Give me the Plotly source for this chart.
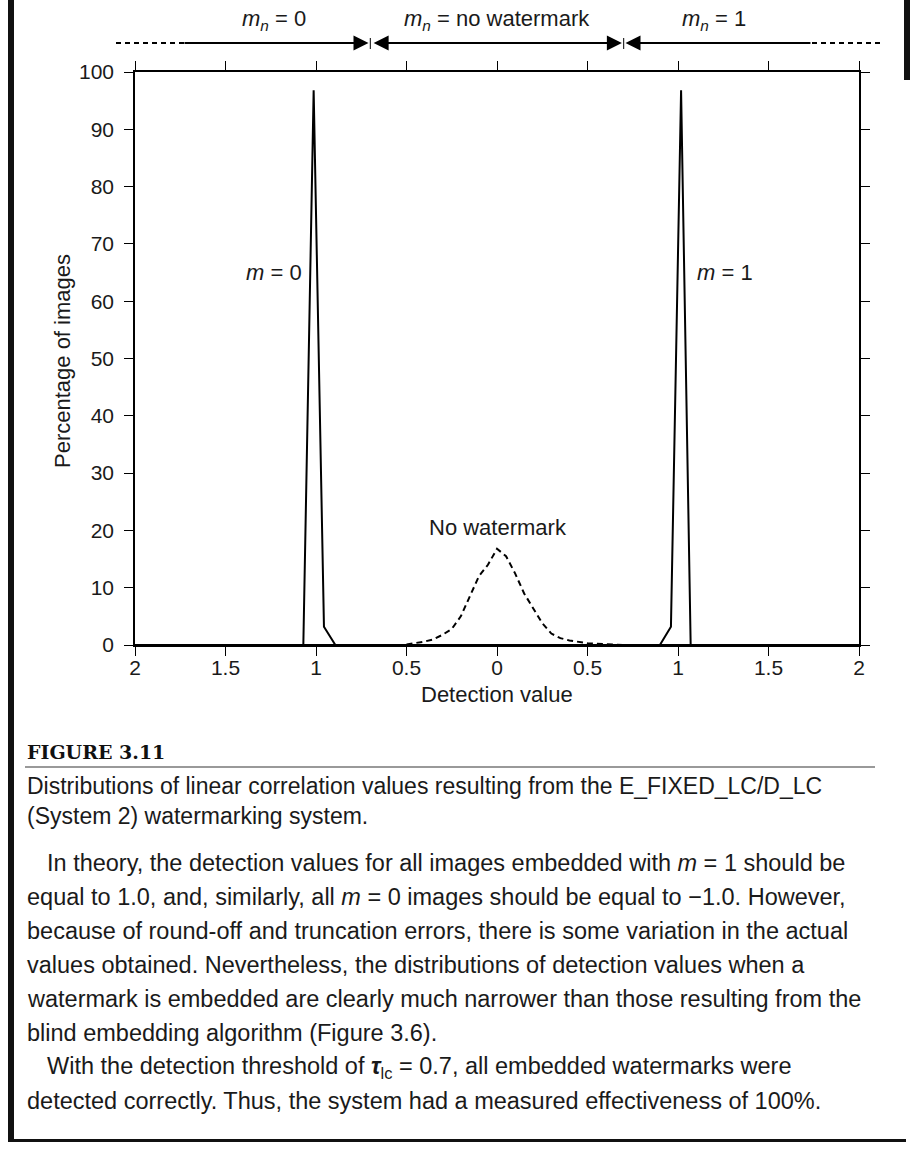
import plotly.graph_objects as go

# ---------------- data ----------------
x_tick_vals = [-2, -1.5, -1, -0.5, 0, 0.5, 1, 1.5, 2]
x_tick_text = ["2", "1.5", "1", "0.5", "0", "0.5", "1", "1.5", "2"]
y_tick_vals = [0, 10, 20, 30, 40, 50, 60, 70, 80, 90, 100]

m0_x = [-2.0, -1.07, -1.013, -0.956, -0.893, 2.0]
m0_y = [0, 0, 96.8, 3.2, 0, 0]

m1_x = [-2.0, 0.90, 0.961, 1.017, 1.07, 2.0]
m1_y = [0, 0, 3.2, 96.8, 0, 0]

nw_x = [-0.5, -0.45, -0.4, -0.35, -0.3, -0.25, -0.2, -0.15, -0.1, -0.05, 0.0,
        0.05, 0.1, 0.15, 0.2, 0.25, 0.3, 0.35, 0.4, 0.45, 0.5, 0.55, 0.6, 0.65, 0.7]
nw_y = [0.1, 0.3, 0.6, 1.0, 1.8, 2.8, 5.0, 8.5, 12.0, 14.0, 16.8,
        15.5, 12.5, 9.0, 6.5, 3.8, 2.0, 1.2, 0.8, 0.5, 0.3, 0.2, 0.1, 0.05, 0.0]

thresholds = [-0.7, 0.7]
region_labels = ["<i>m<sub>n</sub></i> = 0", "<i>m<sub>n</sub></i> = no watermark", "<i>m<sub>n</sub></i> = 1"]
region_label_x = [-1.23, 0.0, 1.2]

# ---------------- layout geometry ----------------
W, H = 910, 1149
L, R, T, B = 135, 51, 72, 504
PW, PH = W - L - R, H - T - B

def px(xp):
    return (xp - L) / PW

def py(yp):
    return (H - B - yp) / PH

FONT = "Liberation Sans, Arial, Helvetica, sans-serif"
TXT = "#1a1a1a"

fig = go.Figure()
fig.add_trace(go.Scatter(x=m0_x, y=m0_y, mode="lines", line=dict(color="black", width=2), showlegend=False))
fig.add_trace(go.Scatter(x=m1_x, y=m1_y, mode="lines", line=dict(color="black", width=2), showlegend=False))
fig.add_trace(go.Scatter(x=nw_x, y=nw_y, mode="lines", line=dict(color="black", width=2, dash="6px,4px"),
                         showlegend=False))

axis_common = dict(showline=True, linecolor="black", linewidth=1.5, ticks="outside", ticklen=9,
                   tickwidth=1.2, tickcolor="black", mirror="ticks", showgrid=False, zeroline=False,
                   tickfont=dict(family=FONT, size=21, color=TXT))

fig.update_layout(
    width=W, height=H,
    margin=dict(l=L, r=R, t=T, b=B, autoexpand=False),
    paper_bgcolor="white", plot_bgcolor="white",
    xaxis=dict(range=[-2, 2], tickvals=x_tick_vals, ticktext=x_tick_text, ticklabelstandoff=-6, **axis_common),
    yaxis=dict(range=[0, 100], tickvals=y_tick_vals, ticklabelstandoff=6, **axis_common),
    showlegend=False,
)

ann = []
shapes = []

def txt(text, x, y, xref="paper", yref="paper", size=23, xanchor="center", **kw):
    d = dict(text=text, x=x, y=y, xref=xref, yref=yref, showarrow=False, xanchor=xanchor, yanchor="middle",
             font=dict(family=kw.pop("family", FONT), size=size, color=kw.pop("color", TXT)))
    d.update(kw)
    ann.append(d)

# axis titles
txt("Detection value", 0, py(694), xref="x", size=22)
txt("Percentage of images", px(62), py(361), size=22, textangle=-90)

# curve labels
txt("<i>m</i> = 0", -1.232, 65, xref="x", yref="y", size=22)
txt("<i>m</i> = 1", 1.26, 65, xref="x", yref="y", size=22)
txt("No watermark", 0.005, 20.5, xref="x", yref="y", size=22)

# region labels on top
for lab, lx in zip(region_labels, region_label_x):
    txt(lab, lx, py(20), xref="x", size=22)

yarr = py(43)
arrow_common = dict(xref="x", yref="paper", axref="x", ayref="pixel", ay=0, y=yarr, text="",
                    showarrow=True, arrowhead=2, arrowsize=1.5, arrowwidth=2, arrowcolor="black",
                    standoff=0, startstandoff=0)
ann.append(dict(x=thresholds[0] - 0.01, ax=-1.735, **arrow_common))
ann.append(dict(x=thresholds[1] - 0.01, ax=thresholds[0] + 0.01, arrowside="end+start", **arrow_common))
ann.append(dict(x=thresholds[1] + 0.01, ax=1.74, **arrow_common))

# dashed extensions
shapes.append(dict(type="line", xref="paper", yref="paper", x0=px(116), x1=px(184), y0=yarr, y1=yarr,
                   line=dict(color="black", width=2, dash="5px,4px")))
shapes.append(dict(type="line", xref="paper", yref="paper", x0=px(812), x1=px(882), y0=yarr, y1=yarr,
                   line=dict(color="black", width=2, dash="5px,4px")))
# separators
for t in thresholds:
    shapes.append(dict(type="line", xref="x", yref="paper", x0=t, x1=t, y0=py(49), y1=py(38),
                       line=dict(color="black", width=1)))

# page frame
shapes.append(dict(type="rect", xref="paper", yref="paper", x0=px(8), x1=px(14), y0=py(0), y1=py(1142),
                   line=dict(width=0), fillcolor="#111"))
shapes.append(dict(type="rect", xref="paper", yref="paper", x0=px(8), x1=px(906), y0=py(1139), y1=py(1142),
                   line=dict(width=0), fillcolor="#111"))
shapes.append(dict(type="rect", xref="paper", yref="paper", x0=px(904), x1=px(910), y0=py(0), y1=py(80),
                   line=dict(width=0), fillcolor="#111"))

# caption
txt("<b>FIGURE 3.11</b>", px(25), py(752), xanchor="left", size=19, family="DejaVu Serif, serif", color="#111")
shapes.append(dict(type="line", xref="paper", yref="paper", x0=px(25), x1=px(875), y0=py(767), y1=py(767),
                   line=dict(color="#777", width=1.5)))
caption_lines = [
    "Distributions of linear correlation values resulting from the E_FIXED_LC/D_LC",
    "(System 2) watermarking system.",
]
for i, line in enumerate(caption_lines):
    txt(line, px(25), py(786 + 30 * i), xanchor="left", size=23)

body_lines = [
    (45, "In theory, the detection values for all images embedded with <i>m</i> = 1 should be"),
    (25, "equal to 1.0, and, similarly, all <i>m</i> = 0 images should be equal to \u22121.0. However,"),
    (25, "because of round-off and truncation errors, there is some variation in the actual"),
    (25, "values obtained. Nevertheless, the distributions of detection values when a"),
    (25, "watermark is embedded are clearly much narrower than those resulting from the"),
    (25, "blind embedding algorithm (Figure 3.6)."),
    (45, "With the detection threshold of <b><i>\u03c4</i></b><sub>lc</sub> = 0.7, all embedded watermarks were"),
    (25, "detected correctly. Thus, the system had a measured effectiveness of 100%."),
]
for i, (xp, line) in enumerate(body_lines):
    txt(line, px(xp), py(863 + 34 * i), xanchor="left", size=23.5)

fig.update_layout(annotations=ann, shapes=shapes)
fig.write_html("out.html")
